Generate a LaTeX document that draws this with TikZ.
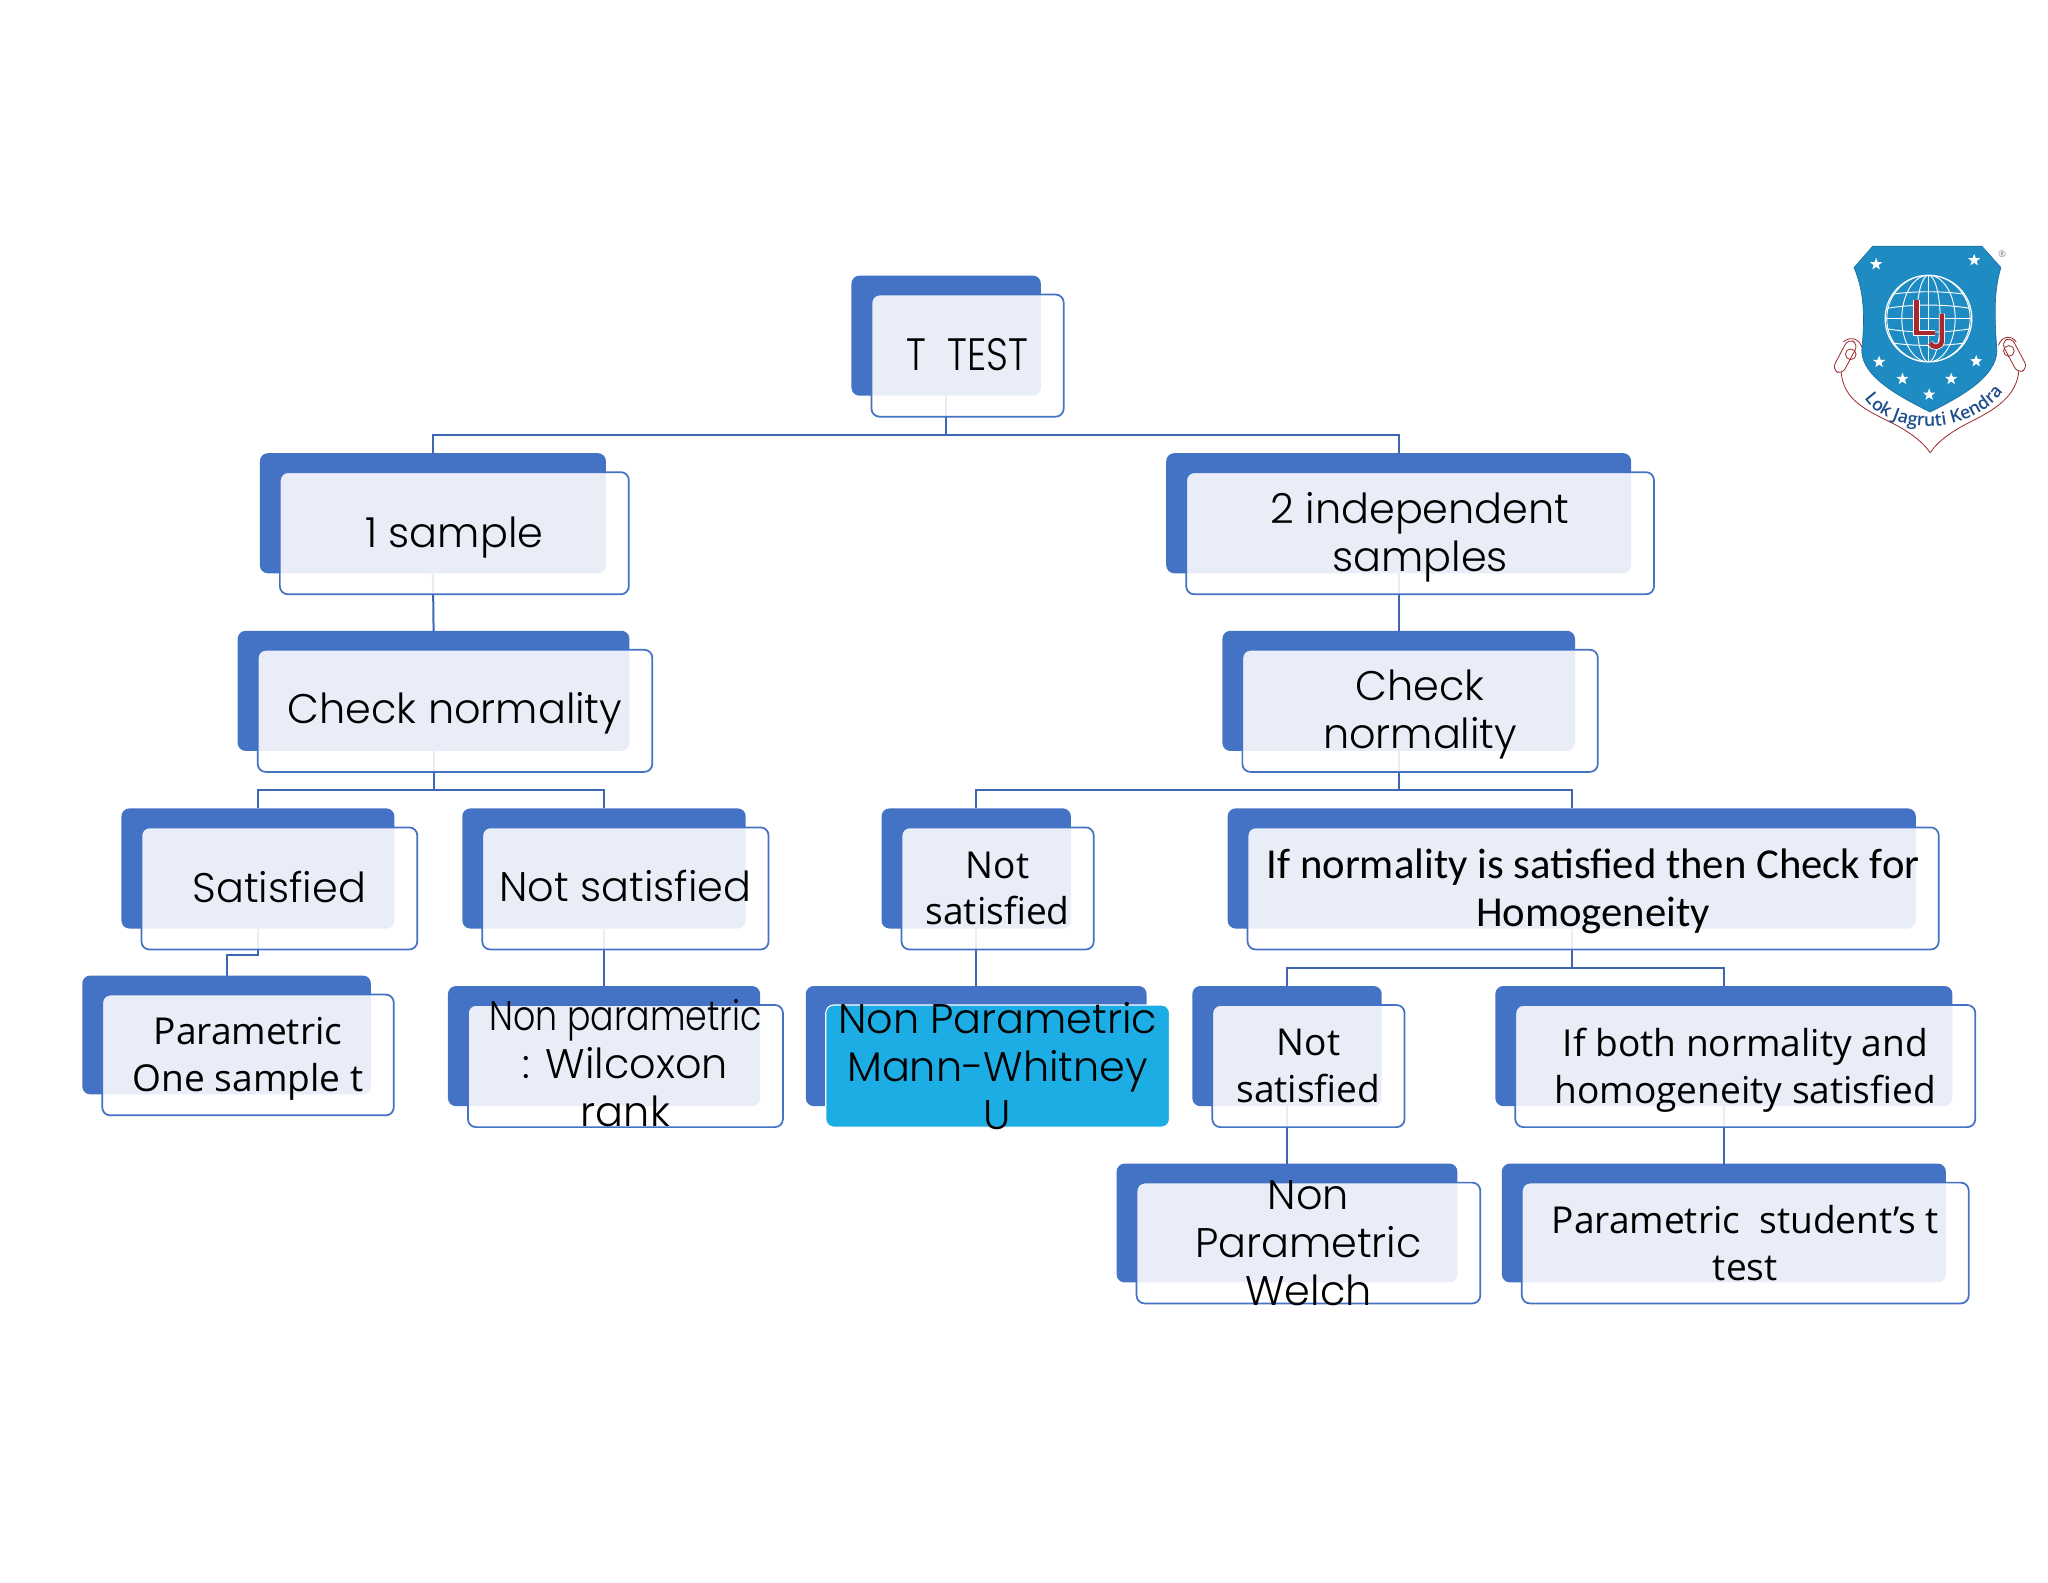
\documentclass[tikz,border=0pt]{standalone}
\usepackage{fontspec}
\usetikzlibrary{calc,shapes.geometric,decorations.text}
\setmainfont{Open Sans}
\newfontfamily\gothicfont{Poppins Light}
\newfontfamily\narrowfont{Poppins Light}[FakeStretch=.84]
\newfontfamily\humanfont{Open Sans}
\newfontfamily\calibrifont{Carlito}
\newfontfamily\logofont{Open Sans}[BoldFont=* Semibold]
\definecolor{chartblue}{HTML}{4472C4}
\definecolor{linkblue}{HTML}{3D66B3}
\definecolor{mann}{HTML}{1CADE4}
\definecolor{shield}{HTML}{1E8BC3}
\definecolor{shielde}{HTML}{1A6E9E}
\definecolor{logored}{HTML}{A8282C}
\definecolor{ribbon}{HTML}{9A2A2E}
\definecolor{logotext}{HTML}{1F4E8C}
\pgfdeclarelayer{links}
\pgfsetlayers{links,main}
\tikzset{
  backbox/.style={rectangle,rounded corners=6pt,fill=chartblue,inner sep=0pt,outer sep=0pt},
  frontbox/.style={rectangle,rounded corners=6pt,draw=chartblue,line width=1.3pt,fill=white,fill opacity=.88,draw opacity=1,inner sep=0pt,outer sep=0pt},
  gothic/.style={font=\gothicfont\fontsize{31}{36}\selectfont,align=center,inner sep=0pt},
  human/.style={font=\humanfont\fontsize{27.8}{35}\selectfont,align=center,inner sep=0pt},
  narrow/.style={font=\narrowfont\fontsize{34}{35}\selectfont,align=center,inner sep=0pt},
  calibri/.style={font=\calibrifont\fontsize{32}{36}\selectfont,align=center,inner sep=0pt},
  link/.style={draw=linkblue,line width=1.5pt},
}
% [text style]{name}{x0}{y0}{x1}{y1}{text}: corners of the back box
\newcommand{\orgbox}[7][gothic]{%
  \pgfmathsetmacro\bw{(#5-#3)*0.97875}%
  \pgfmathsetmacro\bh{(#6-#4)*0.97875}%
  \pgfmathsetmacro\fw{(#5-#3+2.2)*0.97875}%
  \pgfmathsetmacro\fh{(#6-#4+1.5)*0.97875}%
  \node[backbox,minimum width=\bw pt,minimum height=\bh pt] (#2B) at ({(#3+#5)/2},{(#4+#6)/2}) {};
  \node[frontbox,minimum width=\fw pt,minimum height=\fh pt] (#2) at ({(#3+#5)/2+16.4},{(#4+#6)/2+15.3}) {};
  \node[#1] (#2T) at (#2.center) {#7};
}
\begin{document}
\begin{tikzpicture}[x=0.97875pt,y=-0.97875pt]
\useasboundingbox (0,0) rectangle (1568.2,1211.4);

\orgbox[narrow,yshift=1pt]{ttest}{652}{211}{797}{303}{T\ \ TEST}
\orgbox[gothic,yshift=-3.5pt]{onesample}{199}{347}{464}{439}{1 sample}
\orgbox[gothic,yshift=-3pt]{twosample}{893}{347}{1249}{439}{2 independent\\samples}
\orgbox[gothic,yshift=-2pt]{checkl}{182}{483}{482}{575}{Check normality}
\orgbox[gothic,yshift=-3pt]{checkr}{936}{483}{1206}{575}{Check\\normality}
\orgbox[gothic,yshift=1pt]{satl}{93}{619}{302}{711}{Satisfied}
\orgbox[gothic,yshift=2pt]{notsatl}{354}{619}{571}{711}{Not satisfied}
\orgbox[human]{notsatr}{675}{619}{820}{711}{Not\\satisfied}
\orgbox[calibri,yshift=-2pt]{homog}{940}{619}{1467}{711}{If normality is satisfied then Check for\\Homogeneity}
\orgbox[human,yshift=-3pt]{paramone}{63}{747}{284}{838}{Parametric\\One sample t}
\orgbox[gothic,yshift=2pt]{wilcoxon}{343}{755}{582}{847}{{\narrowfont Non parametric}\\: Wilcoxon\\rank}
\begin{scope}[frontbox/.style={rectangle,rounded corners=6pt,draw=white,line width=.8pt,fill=mann,inner sep=0pt,outer sep=0pt}]
\orgbox{mannw}{617}{755}{878}{847}{Non Parametric\\Mann-Whitney\\U}
\end{scope}
\orgbox[human]{notsatw}{913}{755}{1058}{847}{Not\\satisfied}
\orgbox[human,yshift=-3pt]{both}{1145}{755}{1495}{847}{If both normality and\\homogeneity satisfied}
\orgbox{welch}{855}{891}{1116}{982}{Non\\Parametric\\Welch}
\orgbox[human]{student}{1150}{891}{1490}{982}{Parametric\ \ student’s t\\test}

\coordinate (busa) at (0,333);
\coordinate (busb) at (0,605);
\coordinate (busc) at (0,741);
\coordinate (busd) at (0,731);
\begin{pgfonlayer}{links}
\fill[white] (0,0) rectangle (1568.2,1211.4);
\draw[link] (ttestB.south) -- (ttestB.south |- busa) -| (onesampleB.north);
\draw[link] (ttestB.south) -- (ttestB.south |- busa) -| (twosampleB.north);
\draw[link] (onesampleB.south) -- (checklB.north);
\draw[link] (twosampleB.south) -- (checkrB.north);
\draw[link] (checklB.south) -- (checklB.south |- busb) -| (satlB.north);
\draw[link] (checklB.south) -- (checklB.south |- busb) -| (notsatlB.north);
\draw[link] (checkrB.south) -- (checkrB.south |- busb) -| (notsatrB.north);
\draw[link] (checkrB.south) -- (checkrB.south |- busb) -| (homogB.north);
\draw[link] (satlB.south) -- (satlB.south |- busd) -| (paramoneB.north);
\draw[link] (notsatlB.south) -- (wilcoxonB.north);
\draw[link] (notsatrB.south) -- (mannwB.north);
\draw[link] (homogB.south) -- (homogB.south |- busc) -| (notsatwB.north);
\draw[link] (homogB.south) -- (homogB.south |- busc) -| (bothB.north);
\draw[link] (notsatwB.south) -- (welchB.north);
\draw[link] (bothB.south) -- (bothB.south |- studentB.north);
\end{pgfonlayer}

% logo, in units of the 3x crop
\begin{scope}[shift={(1363,168.6)},x=0.25pt,y=-0.25pt]
  \draw[ribbon,line width=.6pt,fill=white]
    (183,455) .. controls (190,540) and (260,570) .. (330,605)
    .. controls (380,630) and (425,660) .. (450,697)
    .. controls (475,660) and (520,630) .. (570,605)
    .. controls (640,570) and (710,530) .. (716,450);
  \draw[ribbon,line width=.6pt,rounded corners=5pt,rotate around={-28:(197,410)}] (178,358) rectangle (212,462);
  \draw[ribbon,line width=.6pt,rounded corners=5pt,rotate around={28:(703,405)}] (686,352) rectangle (720,458);
  \draw[ribbon,line width=.6pt] (212,402) circle (16);
  \draw[ribbon,line width=.6pt] (686,392) circle (16);
  \draw[ribbon,line width=.6pt] (190,365) .. controls (205,350) and (235,350) .. (245,380);
  \draw[ribbon,line width=.6pt] (708,365) .. controls (695,345) and (665,345) .. (655,375);
  \draw[shielde,line width=.5pt,fill=shield]
    (278,78) -- (605,78) -- (662,142)
    .. controls (645,200) and (640,260) .. (650,390)
    .. controls (650,470) and (540,530) .. (450,575)
    .. controls (360,530) and (245,470) .. (245,390)
    .. controls (258,260) and (245,200) .. (222,142) -- cycle;
  \begin{scope}
    \clip (445,295) circle (130);
    \foreach \w in {35,80,125}{
      \draw[white,line width=.7pt] (445,295) ellipse ({\w} and 130);
    }
    \draw[white,line width=.7pt] (445,165) -- (445,425);
    \foreach \d/\e in {-85/-67,-45/-27,45/27,85/67}{
      \draw[white,line width=.7pt] (300,{295+\e}) .. controls (390,{295+\d}) and (500,{295+\d}) .. (590,{295+\e});
    }
    \draw[white,line width=.7pt] (310,295) -- (580,295);
  \end{scope}
  \draw[white,line width=.9pt] (445,295) circle (130);
  \draw[white,line width=4.6pt] (409,238) -- (409,338) -- (464,338);
  \draw[white,line width=4.6pt] (485,280) -- (485,360) .. controls (485,385) and (455,385) .. (450,368);
  \draw[logored,line width=3.4pt,line join=miter] (409,238) -- (409,338) -- (464,338);
  \draw[logored,line width=3.4pt] (485,280) -- (485,360) .. controls (485,385) and (455,385) .. (450,368);
  \foreach \i/\sx/\sy in {1/288/132,2/582/120,3/297/425,4/588/423,5/367/476,6/513/476,7/447/523}{
    \node[star,star points=5,star point ratio=2.4,fill=white,inner sep=0pt,minimum size=9.5pt] (logostar\i) at (\sx,\sy) {};
  }
  \node[font=\logofont\fontsize{7}{7}\selectfont,text=gray] (logoreg) at (666,102) {®};
  \path[decorate,decoration={text along path,text align=center,
     text={|\logofont\bfseries\fontsize{13.3}{13.3}\selectfont\color{logotext}|Lok Jagruti Kendra}}]
     (250,530) .. controls (320,645) and (570,655) .. (672,510);
\end{scope}
\end{tikzpicture}
\end{document}
